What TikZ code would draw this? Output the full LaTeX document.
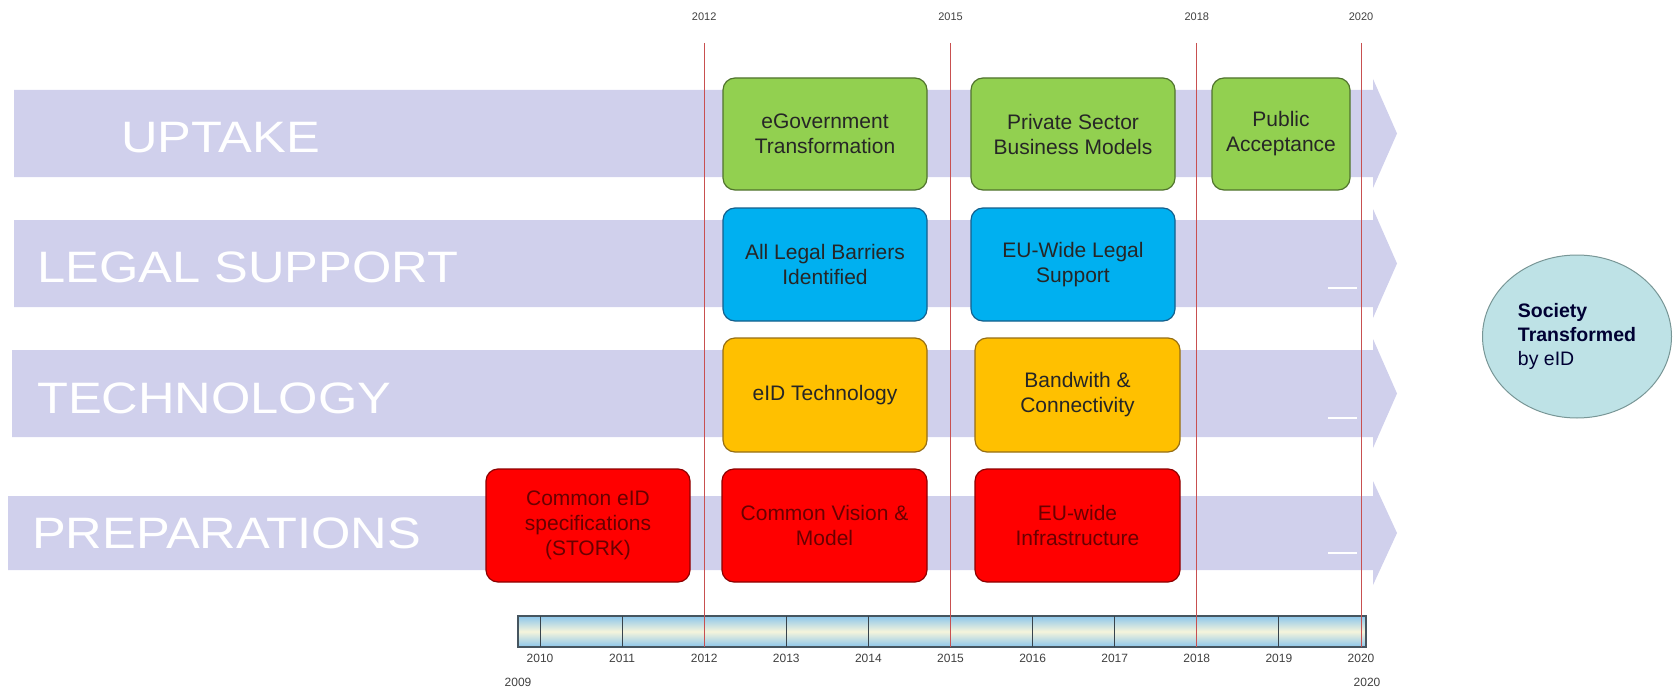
\documentclass[tikz,border=0pt]{standalone}
\usepackage{fontspec}
\setmainfont{Liberation Sans}
\usepackage{graphicx}
\usetikzlibrary{shapes.geometric}

\definecolor{lane}{RGB}{208,208,236}
\definecolor{greenbox}{RGB}{146,208,80}
\definecolor{greenline}{RGB}{80,115,45}
\definecolor{bluebox}{RGB}{0,176,240}
\definecolor{blueline}{RGB}{20,95,140}
\definecolor{yellowbox}{RGB}{255,192,0}
\definecolor{yellowline}{RGB}{150,110,20}
\definecolor{redbox}{RGB}{255,0,0}
\definecolor{redline}{RGB}{140,0,0}
\definecolor{redtext}{RGB}{105,0,0}
\definecolor{yearline}{RGB}{200,80,80}
\definecolor{barblue}{RGB}{140,198,235}
\definecolor{baryellow}{RGB}{245,245,220}
\definecolor{bardraw}{RGB}{70,85,95}
\definecolor{societyfill}{RGB}{190,226,230}
\definecolor{societyline}{RGB}{120,150,150}

\tikzset{
  lanelabel/.style={anchor=base west, inner sep=0pt, text=white, font=\fontsize{44}{44}\selectfont},
  milestone/.style={rounded corners=12pt, line width=1.2pt},
  uptakebox/.style={milestone, draw=greenline, fill=greenbox},
  legalbox/.style={milestone, draw=blueline, fill=bluebox},
  techbox/.style={milestone, draw=yellowline, fill=yellowbox},
  prepbox/.style={milestone, draw=redline, fill=redbox},
  boxtext/.style={align=center, text=black!85, font=\fontsize{21}{25}\selectfont},
  yeartick/.style={draw=yearline, line width=1pt},
  yearlabel/.style={text=black!75, inner sep=0pt, font=\fontsize{12}{12}\selectfont},
}
\newcommand{\widen}[1]{\scalebox{1.15}[1]{#1}}

\begin{document}
\begin{tikzpicture}[x=1pt,y=-1pt]
    \useasboundingbox (0,0) rectangle (1673,690);

    % lanes
    \fill[lane] (14,90) -- (1373,90) -- (1373,79) -- (1397,133.5) -- (1373,188) -- (1373,177) -- (14,177) -- cycle;
    \fill[lane] (14,220) -- (1373,220) -- (1373,209) -- (1397,263.5) -- (1373,318) -- (1373,307) -- (14,307) -- cycle;
    \fill[lane] (12,350) -- (1373,350) -- (1373,339) -- (1397,393.5) -- (1373,448) -- (1373,437) -- (12,437) -- cycle;
    \fill[lane] (8,496) -- (1373,496) -- (1373,481) -- (1397,533) -- (1373,585) -- (1373,570) -- (8,570) -- cycle;

    \draw[white, line width=2pt] (1328,288) -- (1357,288);
    \draw[white, line width=2pt] (1328,418) -- (1357,418);
    \draw[white, line width=2pt] (1328,553) -- (1357,553);

    \node[lanelabel] (uptake) at (121,153) {\widen{UPTAKE}};
    \node[lanelabel] (legal) at (37,282) {\widen{LEGAL SUPPORT}};
    \node[lanelabel] (tech) at (37,413) {\widen{TECHNOLOGY}};
    \node[lanelabel] (prep) at (32,548) {\widen{PREPARATIONS}};

    % time bar
    \shadedraw[draw=bardraw, line width=1.2pt, top color=barblue, bottom color=barblue, middle color=baryellow] (518,616) rectangle (1366,647);
    \foreach \yr in {2010,...,2020} {
        \pgfmathsetmacro\xx{540+(\yr-2010)*82.1}
        \draw[bardraw!80!black, line width=1pt] (\xx,616) -- (\xx,647);
        \node[yearlabel] (yr\yr) at (\xx,658) {\yr};
    }
    \node[yearlabel] (yrstart) at (518,682) {2009};
    \node[yearlabel] (yrend) at (1367,682) {2020};

    % milestones in time
    \foreach \yr/\xx in {2012/704.2,2015/950.5,2018/1196.8,2020/1361} {
        \node[yearlabel, font=\fontsize{11}{11}\selectfont] (top\yr) at (\xx,17) {\yr};
        \draw[yeartick] (\xx,43) -- (\xx,647);
    }

    \draw[uptakebox] (723,78) rectangle (927,190) node[pos=.5, boxtext] (egov) {eGovernment\\Transformation};
    \draw[uptakebox] (971,78) rectangle (1175,190) node[pos=.5, boxtext] (private) {Private Sector\\Business Models};
    \draw[uptakebox] (1212,78) rectangle (1350,190) node[pos=.5, boxtext] (public) {Public\\Acceptance};

    \draw[legalbox] (723,208) rectangle (927,321) node[pos=.5, boxtext] (barriers) {All Legal Barriers\\Identified};
    \draw[legalbox] (971,208) rectangle (1175,321) node[pos=.5, boxtext] (euwide) {EU-Wide Legal\\Support};

    \draw[techbox] (723,338) rectangle (927,452) node[pos=.5, boxtext] (eidtech) {eID Technology};
    \draw[techbox] (975,338) rectangle (1180,452) node[pos=.5, boxtext] (bandwith) {Bandwith \&\\Connectivity};

    \draw[prepbox] (486,469) rectangle (690,582) node[pos=.5, boxtext, text=redtext] (stork) {Common eID\\specifications\\(STORK)};
    \draw[prepbox] (722,469) rectangle (927,582) node[pos=.5, boxtext, text=redtext] (vision) {Common Vision \&\\Model};
    \draw[prepbox] (975,469) rectangle (1180,582) node[pos=.5, boxtext, text=redtext] (infra) {EU-wide\\Infrastructure};

    % goal
    \node[ellipse, draw=societyline, fill=societyfill, line width=1pt, minimum width=189pt, minimum height=163pt,
          inner sep=0pt, align=left, text=black!80!blue, font=\fontsize{19.5}{24}\selectfont]
          (society) at (1577,336.5) {\textbf{Society}\\\textbf{Transformed}\\by eID};
\end{tikzpicture}
\end{document}
